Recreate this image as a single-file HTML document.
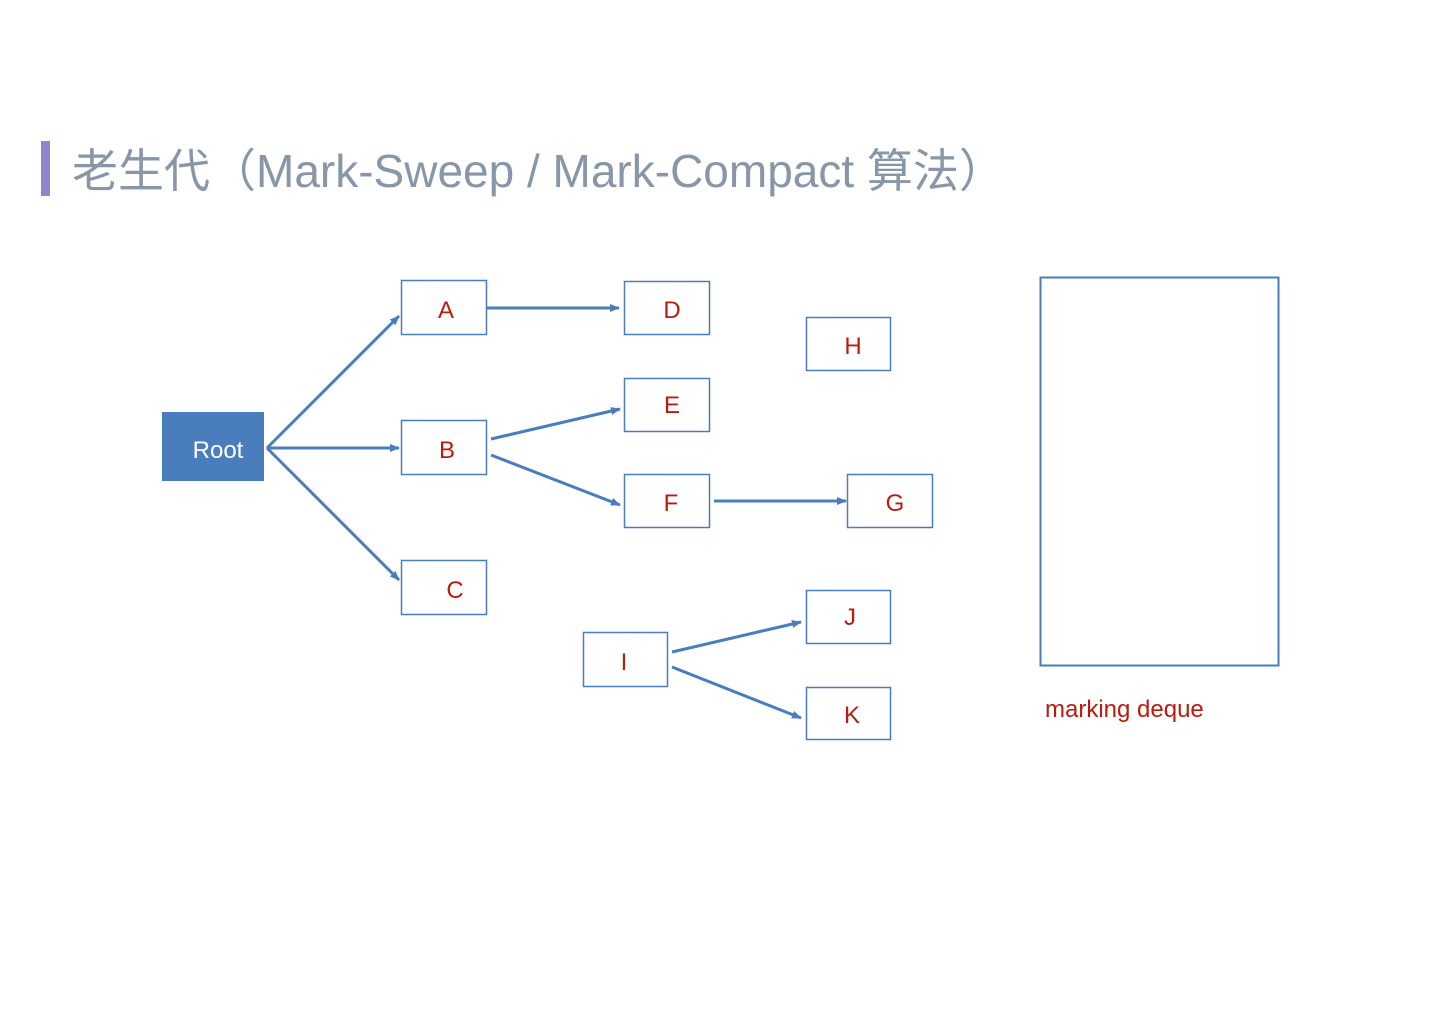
<!DOCTYPE html>
<html><head><meta charset="utf-8"><style>
body{margin:0;background:#fff;}
svg{display:block}
</style></head><body>
<svg width="1440" height="1018" xmlns="http://www.w3.org/2000/svg">
<defs><marker id="ar" markerWidth="10" markerHeight="8" refX="9" refY="4" orient="auto" markerUnits="userSpaceOnUse"><path d="M0,0 L10,4 L0,8 z" fill="#4a7dbb"/></marker></defs>
<rect x="41" y="141" width="9" height="55" fill="#8e86cc"/>
<text x="72" y="187" font-family="Liberation Sans, Noto Sans CJK SC, sans-serif" font-size="46" fill="#8797a9">老生代（Mark-Sweep / Mark-Compact 算法）</text>
<g fill="#fff" stroke="#4a7dbb" stroke-width="1.5">
<rect x="401.5" y="280.5" width="85" height="54"/>
<rect x="624.5" y="281.5" width="85" height="53"/>
<rect x="806.5" y="317.5" width="84" height="53"/>
<rect x="624.5" y="378.5" width="85" height="53"/>
<rect x="401.5" y="420.5" width="85" height="54"/>
<rect x="624.5" y="474.5" width="85" height="53"/>
<rect x="847.5" y="474.5" width="85" height="53"/>
<rect x="401.5" y="560.5" width="85" height="54"/>
<rect x="806.5" y="590.5" width="84" height="53"/>
<rect x="583.5" y="632.5" width="84" height="54"/>
<rect x="806.5" y="687.5" width="84" height="52"/>
<rect x="1040.5" y="277.5" width="238" height="388" stroke-width="2"/>
</g>
<rect x="162" y="412" width="102" height="69" fill="#4a7dbb"/>
<g stroke="#4a7dbb" stroke-width="3" fill="none" marker-end="url(#ar)">
<line x1="267" y1="448" x2="399" y2="316"/>
<line x1="267" y1="448" x2="399" y2="448"/>
<line x1="267" y1="448" x2="399" y2="580"/>
<line x1="487" y1="308" x2="619" y2="308"/>
<line x1="491" y1="439" x2="620" y2="409"/>
<line x1="491" y1="455" x2="620" y2="505"/>
<line x1="714" y1="501" x2="846" y2="501"/>
<line x1="672" y1="652" x2="801" y2="622"/>
<line x1="672" y1="667" x2="801" y2="718"/>
</g>
<g font-family="Liberation Sans, sans-serif" font-size="24" fill="#b81c0e" text-anchor="middle">
<text x="446" y="318">A</text>
<text x="672" y="318">D</text>
<text x="853" y="354">H</text>
<text x="672" y="413">E</text>
<text x="447" y="458">B</text>
<text x="671" y="511">F</text>
<text x="895" y="511">G</text>
<text x="455" y="598">C</text>
<text x="850" y="625">J</text>
<text x="624" y="670">I</text>
<text x="852" y="723">K</text>
</g>
<text x="218" y="458" font-family="Liberation Sans, sans-serif" font-size="24" fill="#fff" text-anchor="middle">Root</text>
<text x="1045" y="717" font-family="Liberation Sans, sans-serif" font-size="24" fill="#b81c0e">marking deque</text>
</svg>
</body></html>
